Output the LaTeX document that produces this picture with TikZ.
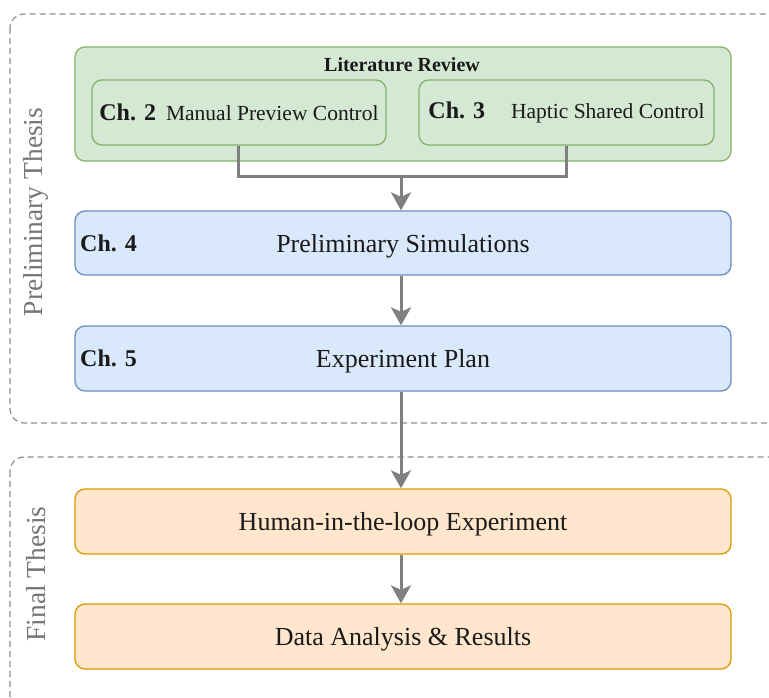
\documentclass[tikz,border=0pt]{standalone}
\usepackage{fontspec}
\setmainfont{Liberation Serif}
\usetikzlibrary{arrows.meta}
\definecolor{gfill}{HTML}{D5E8D4}
\definecolor{gdraw}{HTML}{82B366}
\definecolor{bfill}{HTML}{DAE8FC}
\definecolor{bdraw}{HTML}{6C8EBF}
\definecolor{ofill}{HTML}{FFE6CC}
\definecolor{odraw}{HTML}{D79B00}
\definecolor{arrowgray}{HTML}{808080}
\definecolor{zonegray}{HTML}{8C8C8C}
\definecolor{labelgray}{HTML}{767676}
\definecolor{txt}{HTML}{1A1A1A}
\tikzset{
  box/.style={rounded corners=10pt, line width=1.3pt, inner sep=0pt, minimum width=656pt, minimum height=64pt, text=txt},
  greenbox/.style={box, fill=gfill, draw=gdraw},
  bluebox/.style={box, fill=bfill, draw=bdraw, font=\fontsize{26}{30}\selectfont, text depth=0pt},
  orangebox/.style={box, fill=ofill, draw=odraw, font=\fontsize{26}{30}\selectfont, text depth=0pt},
  chbox/.style={greenbox, minimum width=294pt, minimum height=65pt, font=\fontsize{21.5}{25}\selectfont},
  chlabel/.style={inner sep=0pt, anchor=west, text=txt, font=\bfseries\fontsize{24}{28}\selectfont},
  arr/.style={draw=arrowgray, line width=3pt, -{Stealth[length=18pt,width=20pt,inset=4.5pt]}},
  lnk/.style={draw=arrowgray, line width=3pt},
  zone/.style={draw=zonegray, dash pattern=on 6pt off 4pt, line width=1.2pt, rounded corners=14pt},
  zonelabel/.style={rotate=90, text=labelgray, font=\fontsize{27.5}{32}\selectfont},
}
\begin{document}
\begin{tikzpicture}[x=1pt,y=-1pt]
\useasboundingbox (0,0) rectangle (769,698);
\begin{scope}
  \clip (0,0) rectangle (769,698);
  \draw[zone] (10,14) rectangle (800,423);
  \draw[zone] (10,457) rectangle (800,740);
\end{scope}
\node[zonelabel] (zl1) at (36,212) {Preliminary Thesis};
\node[zonelabel] (zl2) at (36,574) {Final Thesis};

\node[greenbox, minimum height=114pt] (lit) at (403,104) {};
\node[inner sep=0pt, text=txt, font=\bfseries\fontsize{20}{24}\selectfont] (littitle) at (402,64.5) {Literature Review};
\node[chbox] (ch2) at (239,112.5) {\textbf{\fontsize{24}{28}\selectfont Ch. 2}\hspace{10pt}Manual Preview Control};
\node[chbox, minimum width=295pt] (ch3) at (566.5,112.5) {\textbf{\fontsize{24}{28}\selectfont Ch. 3}\hspace{26pt}Haptic Shared Control};

\node[bluebox] (sim) at (403,243) {Preliminary Simulations};
\node[chlabel] (ch4) at (80,243) {Ch. 4};
\node[bluebox, minimum height=65pt] (plan) at (403,358.5) {Experiment Plan};
\node[chlabel] (ch5) at (80,358.5) {Ch. 5};

\node[orangebox, minimum height=65pt] (exp) at (403,521.5) {Human-in-the-loop Experiment};
\node[orangebox, minimum height=65pt] (res) at (403,636.5) {Data Analysis \& Results};

\coordinate (m) at (401,177);
\draw[lnk] (ch2.south -| 238,0) |- (m) -| (ch3.south);
\draw[arr] (m) -- (m |- sim.north);
\draw[arr] (sim.south -| m) -- (plan.north -| m);
\draw[arr] (plan.south -| m) -- (exp.north -| m);
\draw[arr] (exp.south -| m) -- (res.north -| m);
\end{tikzpicture}
\end{document}
